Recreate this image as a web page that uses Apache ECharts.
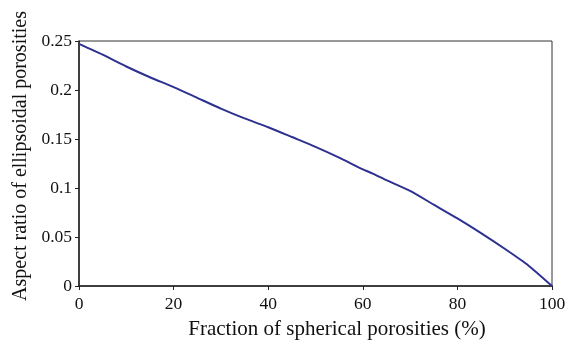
<!DOCTYPE html>
<html>
<head>
<meta charset="utf-8">
<script src="https://cdn.jsdelivr.net/npm/echarts@6/dist/echarts.min.js"></script>
<style>
  html, body {margin: 0; padding: 0; background: #fff;}
  #chart {width: 578px; height: 344px;}
</style>
</head>
<body>
<div id="chart"></div>
<script>
// fraction of spherical porosities (%) vs aspect ratio
const fraction = [0, 5, 10, 15, 20, 25, 30, 35, 40, 45, 50, 55, 60, 62, 65, 70, 75, 80, 85, 90, 95, 100];
const aspect = [0.247, 0.236, 0.224, 0.213, 0.203, 0.192, 0.181, 0.171, 0.162, 0.152, 0.142, 0.131, 0.119, 0.115, 0.108, 0.097, 0.083, 0.069, 0.054, 0.038, 0.021, 0.0];

const xTitle = 'Fraction of spherical porosities (%)';
const yTitle = 'Aspect ratio of ellipsoidal porosities';

const font = '"Liberation Serif", "Times New Roman", serif';
const chart = echarts.init(document.getElementById('chart'));

const option = {
  animation: false,
  grid: {
    left: 79,
    right: 26,
    top: 41,
    bottom: 58,
    show: true,
    borderColor: '#333',
    borderWidth: 1,
  },
  xAxis: {
    type: 'value',
    min: 0,
    max: 100,
    interval: 20,
    axisLine: {show: true, lineStyle: {color: '#222', width: 1.5}},
    axisTick: {show: true, inside: false, length: 4, lineStyle: {color: '#222'}},
    axisLabel: {margin: 9, color: '#111', fontFamily: font, fontSize: 17.5},
    splitLine: {show: false},
  },
  yAxis: {
    type: 'value',
    min: 0,
    max: 0.25,
    interval: 0.05,
    axisLine: {show: true, lineStyle: {color: '#222', width: 1.5}},
    axisTick: {show: true, inside: false, length: 4, lineStyle: {color: '#222'}},
    axisLabel: {margin: 7, color: '#111', fontFamily: font, fontSize: 17.5},
    splitLine: {show: false},
  },
  graphic: [
    {
      type: 'text',
      x: 337,
      y: 329,
      style: {
        text: xTitle,
        fontFamily: font,
        fontSize: 21,
        fill: '#111',
        align: 'center',
        verticalAlign: 'middle',
      },
    },
    {
      type: 'text',
      x: 21,
      y: 156,
      rotation: Math.PI / 2,
      style: {
        text: yTitle,
        fontFamily: font,
        fontSize: 20,
        fill: '#111',
        align: 'center',
        verticalAlign: 'middle',
      },
    },
  ],
  series: [
    {
      type: 'line',
      data: fraction.map((f, i) => [f, aspect[i]]),
      showSymbol: false,
      smooth: 0.2,
      lineStyle: {color: '#2d3190', width: 2},
    },
  ],
};
chart.setOption(option);
</script>
</body>
</html>
